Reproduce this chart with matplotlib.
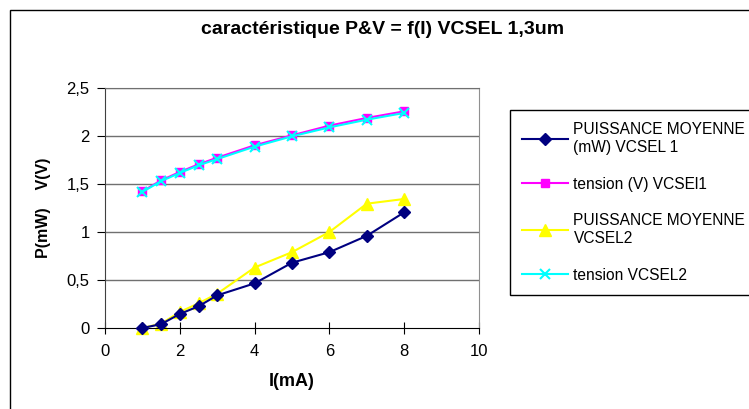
import matplotlib
matplotlib.use("Agg")
import matplotlib.pyplot as plt
from matplotlib.patches import Rectangle

plt.rcParams['font.family'] = ['Liberation Sans', 'DejaVu Sans']

# courant I (mA)
courant = [1, 1.5, 2, 2.5, 3, 4, 5, 6, 7, 8]
# puissance moyenne (mW) VCSEL 1
p_vcsel1 = [0.0, 0.04, 0.146, 0.226, 0.34, 0.465, 0.68, 0.79, 0.96, 1.205]
# tension (V) VCSEL 1
v_vcsel1 = [1.424, 1.538, 1.625, 1.705, 1.774, 1.903, 2.007, 2.108, 2.188, 2.257]
# puissance moyenne VCSEL 2
p_vcsel2 = [0.0, 0.045, 0.167, 0.257, 0.357, 0.63, 0.79, 1.0, 1.295, 1.344]
# tension VCSEL 2
v_vcsel2 = [1.417, 1.53, 1.615, 1.694, 1.76, 1.889, 1.997, 2.09, 2.17, 2.24]

yticks = [0, 0.5, 1, 1.5, 2, 2.5]
ytick_labels = ["0", "0,5", "1", "1,5", "2", "2,5"]
xticks = [0, 2, 4, 6, 8, 10]

labels = ["PUISSANCE MOYENNE\n(mW) VCSEL 1", "tension (V) VCSEl1",
          "PUISSANCE MOYENNE\nVCSEL2", "tension VCSEL2"]

fig = plt.figure(figsize=(7.49, 4.09), dpi=100)
ax = fig.add_axes([105 / 749, 1 - 328 / 409, 374 / 749, 240 / 409])

# cadre du graphique
fig.patches.append(Rectangle((10 / 749, -0.1), 1.0, 1 - 10 / 409 + 0.1,
                             transform=fig.transFigure, fill=False,
                             edgecolor='black', lw=1))

for yv in yticks[1:]:
    ax.axhline(yv, color='#707070', lw=1, zorder=1)

l1, = ax.plot(courant, p_vcsel1, color='#000080', marker='D', ms=6, lw=1.5,
              clip_on=False, zorder=3)
l2, = ax.plot(courant, v_vcsel1, color='#FF00FF', marker='s', ms=6, lw=1.5,
              clip_on=False, zorder=3)
l3, = ax.plot(courant, p_vcsel2, color='#FFFF00', marker='^', ms=9, lw=1.5,
              clip_on=False, zorder=2)
l4, = ax.plot(courant, v_vcsel2, color='#00FFFF', marker='x', ms=7, mew=1.5,
              lw=1.5, clip_on=False, zorder=4)

ax.set_xlim(0, 10)
ax.set_ylim(0, 2.5)
ax.set_xticks(xticks)
ax.set_yticks(yticks)
ax.set_yticklabels(ytick_labels)
ax.tick_params(axis='x', direction='inout', length=9, labelsize=12, pad=7)
ax.tick_params(axis='y', direction='out', length=6, labelsize=12, pad=5)
ax.spines['top'].set_color('#707070')
ax.spines['right'].set_color('#909090')
ax.spines['left'].set_color('#404040')
ax.spines['bottom'].set_color('black')

ax.set_xlabel("I(mA)", fontsize=13, fontweight='bold', labelpad=10)
ax.set_ylabel("P(mW)    V(V)", fontsize=11.5, fontweight='bold', labelpad=11)
fig.text(383 / 749, 1 - 30 / 409, "caractéristique P&V = f(I) VCSEL 1,3um",
         ha='center', va='center', fontsize=14, fontweight='bold')

leg = fig.legend([l1, l2, l3, l4], labels, loc='upper left',
                 bbox_to_anchor=(510 / 749, 1 - 110 / 409), fontsize=11.2,
                 handlelength=2.9, handletextpad=0.38, borderpad=0.8,
                 borderaxespad=0, labelspacing=1.4, fancybox=False,
                 framealpha=1, edgecolor='black')
leg.get_frame().set_linewidth(1)

fig.savefig("out.png", dpi=100)
